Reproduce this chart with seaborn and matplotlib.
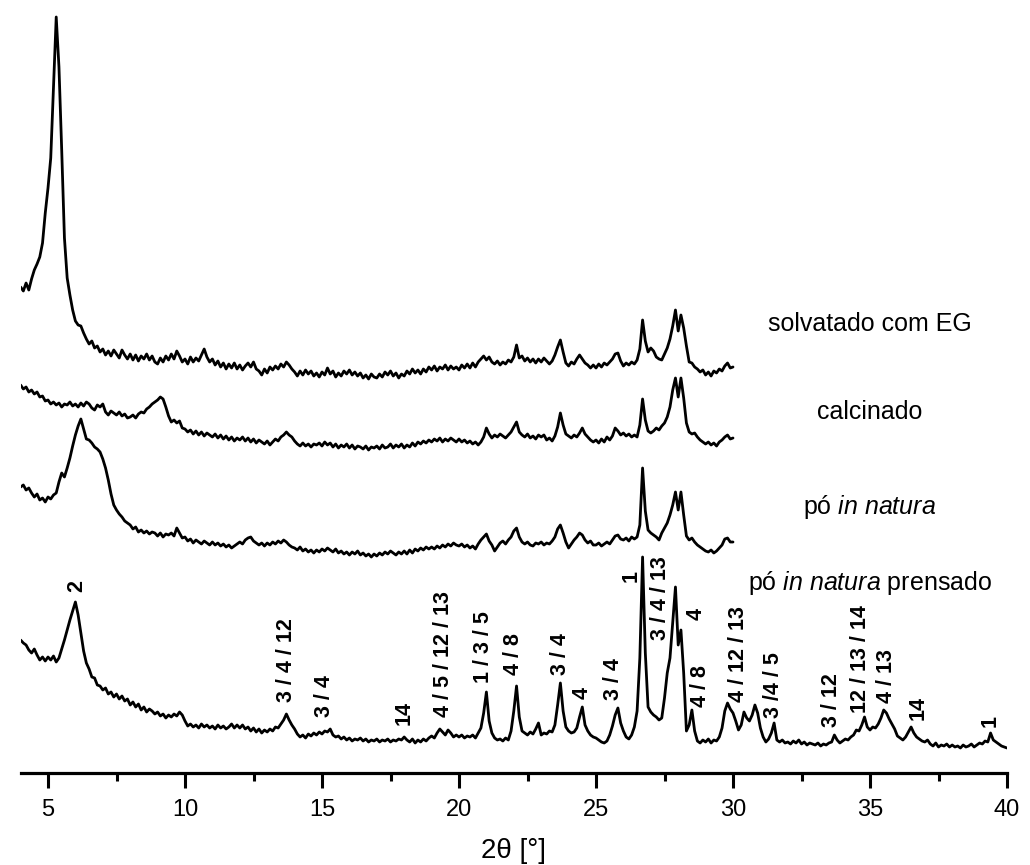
import numpy as np
import pandas as pd
import matplotlib
matplotlib.use("Agg")
import matplotlib.pyplot as plt
from matplotlib.ticker import MultipleLocator
import seaborn as sns

# ---------------- data ----------------
two_theta_short = np.round(np.arange(4.0, 30.05, 0.1), 1)   # 4.0 ... 30.0
two_theta_long = np.round(np.arange(4.0, 40.05, 0.1), 1)    # 4.0 ... 40.0

eg = [
    486, 482, 490, 483, 494, 503, 509, 516, 530, 560,
    585, 615, 685, 756, 706, 623, 535, 495, 478, 463,
    452, 448, 447, 440, 434, 429, 432, 425, 427, 421,
    424, 418, 422, 417, 423, 419, 415, 423, 418, 414,
    419, 413, 418, 412, 417, 414, 419, 413, 417, 411,
    409, 415, 411, 417, 413, 419, 414, 422, 417, 411,
    414, 409, 416, 411, 415, 412, 418, 424, 416, 411,
    414, 408, 412, 406, 410, 404, 409, 405, 410, 404,
    408, 403, 407, 410, 406, 411, 404, 402, 398, 404,
    400, 406, 403, 407, 404, 409, 406, 411, 408, 404,
    401, 397, 402, 398, 403, 399, 402, 397, 400, 396,
    401, 398, 405, 399, 402, 396, 400, 397, 402, 399,
    403, 398, 401, 397, 400, 395, 398, 394, 399, 396,
    395, 399, 396, 401, 398, 402, 397, 400, 395, 399,
    397, 402, 399, 404, 400, 403, 399, 404, 401, 406,
    403, 407, 402, 406, 404, 408, 403, 407, 404, 406,
    403, 408, 405, 409, 405, 410, 406, 411, 414, 417,
    413, 416, 411, 409, 412, 408, 411, 409, 413, 411,
    416, 428, 415, 417, 412, 415, 411, 414, 410, 414,
    411, 415, 412, 409, 412, 418, 426, 433, 421, 410,
    407, 411, 409, 414, 418, 414, 410, 408, 405, 408,
    405, 409, 406, 410, 408, 411, 414, 419, 420, 412,
    407, 410, 408, 411, 409, 413, 424, 453, 432, 421,
    425, 422, 416, 414, 413, 419, 425, 434, 447, 463,
    442, 458, 445, 427, 411, 410, 406, 404, 401, 403,
    398, 401, 397, 402, 400, 404, 402, 407, 410, 405,
    406,
]

calcinado = [
    388, 384, 386, 381, 383, 379, 381, 376, 377, 372,
    373, 369, 371, 368, 370, 366, 369, 368, 371, 367,
    369, 366, 370, 367, 371, 369, 365, 363, 368, 366,
    369, 361, 358, 362, 360, 358, 361, 357, 359, 355,
    356, 358, 355, 359, 361, 360, 364, 366, 369, 371,
    373, 376, 374, 366, 357, 351, 353, 350, 352, 345,
    344, 341, 343, 339, 342, 338, 341, 337, 340, 338,
    336, 339, 335, 338, 334, 337, 333, 336, 332, 335,
    333, 336, 332, 335, 331, 334, 330, 333, 331, 329,
    332, 328, 331, 334, 332, 336, 338, 341, 338, 336,
    332, 329, 327, 330, 327, 329, 326, 329, 328, 330,
    327, 331, 328, 330, 326, 329, 325, 328, 326, 329,
    325, 328, 324, 327, 326, 324, 327, 323, 326, 325,
    327, 324, 328, 325, 326, 329, 325, 328, 326, 329,
    325, 328, 326, 330, 327, 331, 329, 332, 330, 333,
    331, 334, 332, 335, 331, 334, 332, 335, 333, 331,
    334, 331, 333, 330, 332, 329, 331, 328, 331, 336,
    345, 339, 335, 338, 336, 339, 337, 335, 338, 341,
    346, 351, 341, 338, 336, 339, 335, 337, 334, 338,
    336, 338, 333, 335, 332, 337, 346, 360, 348, 339,
    337, 335, 338, 336, 340, 345, 339, 336, 333, 331,
    333, 330, 334, 331, 336, 333, 337, 345, 342, 338,
    340, 337, 339, 336, 338, 336, 348, 374, 353, 342,
    340, 342, 345, 343, 347, 350, 356, 366, 383, 395,
    376, 395, 375, 350, 341, 339, 340, 336, 333, 331,
    329, 331, 328, 330, 327, 331, 333, 336, 338, 334,
    335,
]

po_in_natura = [
    286, 288, 283, 285, 280, 276, 279, 273, 275, 271,
    276, 274, 278, 280, 291, 300, 296, 305, 315, 327,
    338, 347, 354, 344, 334, 333, 330, 326, 324, 321,
    314, 305, 293, 279, 268, 263, 259, 256, 252, 250,
    248, 244, 246, 241, 243, 240, 242, 239, 241, 240,
    237, 240, 236, 239, 238, 240, 237, 245, 240, 235,
    236, 232, 234, 230, 233, 231, 229, 232, 230, 228,
    231, 228, 230, 227, 229, 226, 228, 225, 227, 229,
    231, 229, 233, 235, 236, 232, 230, 228, 230, 227,
    230, 228, 231, 229, 232, 230, 233, 231, 228, 226,
    225, 223, 226, 222, 224, 221, 223, 220, 223, 221,
    224, 222, 225, 223, 221, 224, 220, 222, 219, 221,
    218, 221, 219, 222, 218, 220, 217, 219, 216, 219,
    217, 220, 218, 221, 219, 222, 220, 218, 221, 219,
    222, 219, 223, 220, 224, 222, 225, 223, 226, 224,
    226, 224, 227, 225, 228, 226, 229, 227, 230, 228,
    227, 229, 226, 228, 225, 227, 224, 229, 233, 236,
    239, 232, 228, 222, 226, 230, 232, 229, 233, 236,
    242, 245, 236, 231, 229, 231, 228, 227, 230, 229,
    231, 228, 230, 229, 232, 236, 244, 248, 240, 231,
    225, 229, 233, 236, 240, 238, 233, 230, 232, 228,
    228, 230, 227, 229, 231, 229, 233, 237, 238, 234,
    233, 235, 232, 236, 234, 236, 248, 305, 262, 243,
    240, 238, 236, 233, 240, 245, 250, 258, 268, 281,
    263, 281, 258, 237, 233, 235, 231, 228, 226, 224,
    222, 221, 223, 220, 222, 225, 228, 234, 235, 231,
    231,
]

prensado = [
    133, 130, 128, 123, 120, 124, 118, 113, 116, 112,
    116, 113, 117, 111, 115, 124, 133, 143, 153, 162,
    171, 158, 140, 122, 110, 104, 96, 95, 88, 87,
    83, 85, 79, 81, 76, 79, 74, 77, 72, 74,
    68, 71, 66, 69, 63, 66, 61, 64, 62, 59,
    61, 57, 59, 55, 58, 56, 59, 57, 61, 58,
    52, 47, 49, 46, 48, 45, 49, 46, 48, 45,
    47, 44, 48, 45, 47, 44, 46, 49, 45, 48,
    45, 48, 44, 46, 42, 45, 41, 44, 40, 43,
    41, 44, 42, 46, 45, 49, 53, 59, 53, 48,
    44, 39, 36, 38, 35, 39, 37, 40, 38, 41,
    39, 42, 41, 44, 38, 36, 37, 34, 36, 33,
    35, 32, 34, 33, 35, 32, 34, 31, 33, 32,
    34, 31, 33, 32, 34, 31, 33, 32, 34, 33,
    36, 33, 31, 34, 30, 33, 31, 34, 32, 35,
    37, 35, 40, 44, 41, 38, 43, 40, 36, 38,
    36, 38, 35, 37, 36, 38, 35, 40, 45, 60,
    81, 52, 40, 35, 33, 34, 32, 35, 33, 42,
    62, 87, 56, 42, 40, 38, 41, 39, 44, 50,
    38, 40, 39, 42, 41, 48, 68, 90, 62, 46,
    42, 40, 41, 45, 56, 66, 48, 42, 38, 36,
    35, 33, 31, 30, 32, 38, 47, 58, 65, 50,
    42, 36, 34, 38, 46, 62, 115, 216, 120, 66,
    61, 58, 56, 53, 55, 75, 100, 115, 150, 186,
    128, 143, 100, 42, 48, 63, 42, 32, 30, 33,
    31, 34, 30, 33, 32, 36, 45, 62, 70, 64,
    60, 52, 43, 48, 61, 55, 52, 58, 68, 60,
    45, 36, 31, 34, 40, 50, 33, 31, 33, 30,
    31, 29, 32, 30, 33, 29, 31, 28, 30, 29,
    28, 30, 27, 29, 28, 30, 31, 38, 33, 30,
    32, 34, 33, 36, 38, 43, 42, 48, 56, 46,
    43, 46, 45, 49, 55, 63, 60, 54, 49, 44,
    37, 35, 33, 36, 41, 46, 40, 36, 34, 32,
    31, 33, 29, 27, 30, 26, 28, 27, 29, 26,
    28, 26, 27, 25, 28, 26, 27, 29, 26, 28,
    30, 29, 32, 31, 40, 33, 31, 29, 27, 26,
    25,
]

sample_names = [
    "solvatado com EG",
    "calcinado",
    r"pó $\mathit{in\ natura}$",
    r"pó $\mathit{in\ natura}$ prensado",
]

peak_texts = ["2", "3 / 4 / 12", "3 / 4", "14", "4 / 5 / 12 / 13", "1 / 3 / 5",
              "4 / 8", "3 / 4", "4", "3 / 4", "1", "3 / 4 / 13", "4", "4 / 8",
              "4 / 12 / 13", "3 /4 / 5", "3 / 12", "12 / 13 / 14", "4 / 13",
              "14", "1"]

x_ticks = [5, 10, 15, 20, 25, 30, 35, 40]
x_label = "2θ [°]"

# ---------------- layout (positions, not data) ----------------
name_x = [35.0, 35.0, 35.0, 35.0]
name_y = [449, 361, 266, 190]
peak_text_x = [6.05, 13.7, 15.1, 18.0, 19.45, 20.9, 22.0, 23.7, 24.5, 25.65,
               26.28, 27.37, 28.64, 28.82, 30.2, 31.48, 33.6, 34.65, 35.6,
               36.77, 39.39]
peak_text_y = [181, 71, 56, 48, 56, 90, 98, 98, 74, 73, 191, 133, 153, 66,
               71, 55, 46, 60, 70, 53, 46]

# ---------------- styling ----------------
sns.set_theme(style="white")
plt.rcParams["font.family"] = ["Liberation Sans", "DejaVu Sans"]
plt.rcParams["mathtext.fontset"] = "custom"
plt.rcParams["mathtext.rm"] = "Liberation Sans"
plt.rcParams["mathtext.it"] = "Liberation Sans:italic"
plt.rcParams["text.color"] = "black"
plt.rcParams["axes.labelcolor"] = "black"
plt.rcParams["xtick.color"] = "black"
plt.rcParams["xtick.labelcolor"] = "black"

frames = []
for name, xs, ys in [("eg", two_theta_short, eg),
                     ("calc", two_theta_short, calcinado),
                     ("po", two_theta_short, po_in_natura),
                     ("pren", two_theta_long, prensado)]:
    frames.append(pd.DataFrame({"two_theta": xs, "intensity": ys, "sample": name}))
df = pd.concat(frames, ignore_index=True)

fig = plt.figure(figsize=(10.30, 8.65), dpi=100)
ax = fig.add_axes([20.6 / 1030, (865 - 773) / 865, (1007 - 20.6) / 1030, 773 / 865])

for name in ["eg", "calc", "po", "pren"]:
    sub = df[df["sample"] == name]
    sns.lineplot(data=sub, x="two_theta", y="intensity", color="black",
                 linewidth=2.0, ax=ax, estimator=None, sort=False)

ax.set_xlim(4, 40)
ax.set_ylim(0, 773)

for sp in ["left", "right", "top"]:
    ax.spines[sp].set_visible(False)
ax.spines["bottom"].set_linewidth(2.3)
ax.spines["bottom"].set_color("black")
ax.set_yticks([])
ax.set_ylabel("")

ax.set_xticks(x_ticks)
ax.set_xticklabels([str(t) for t in x_ticks])
ax.xaxis.set_minor_locator(MultipleLocator(2.5))
ax.tick_params(axis="x", which="major", direction="out", length=11, width=2.2,
               labelsize=17, pad=8, color="black", labelcolor="black", bottom=True)
ax.tick_params(axis="x", which="minor", direction="out", length=6, width=2.2,
               color="black", bottom=True)
ax.set_xlabel(x_label, fontsize=20, color="black", labelpad=12)

for txt, x, y in zip(sample_names, name_x, name_y):
    ax.text(x, y, txt, ha="center", va="center", fontsize=18, color="black")

for txt, x, y in zip(peak_texts, peak_text_x, peak_text_y):
    ax.text(x, y, txt, rotation=90, ha="center", va="bottom", fontsize=15.5,
            fontweight="bold", color="black")

fig.savefig("out.png", dpi=100, facecolor="white")
